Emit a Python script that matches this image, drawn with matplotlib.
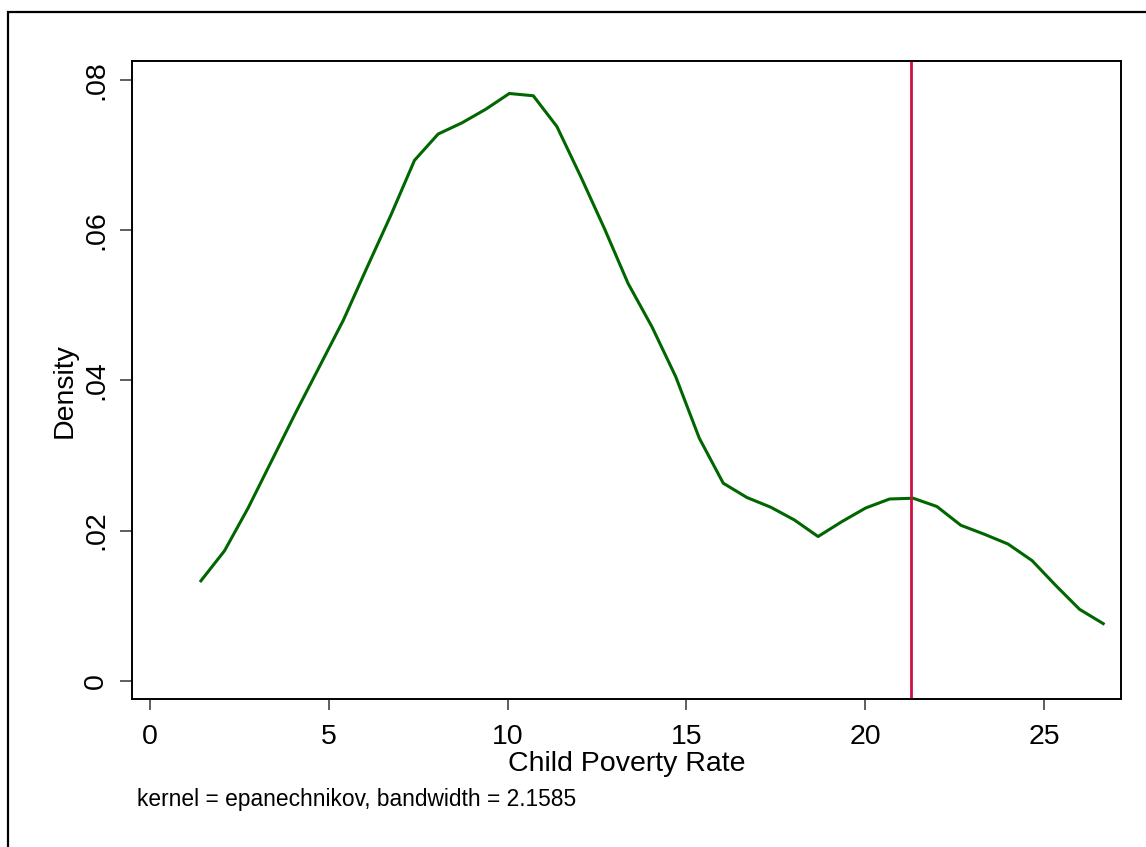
import matplotlib
matplotlib.use("Agg")
import matplotlib.pyplot as plt
from matplotlib.patches import Rectangle

plt.rcParams['font.family'] = ['Liberation Sans', 'DejaVu Sans']

# kernel density estimate
poverty = [1.43, 2.09, 2.75, 3.42, 4.08, 4.74, 5.41, 6.07, 6.74, 7.40,
           8.06, 8.73, 9.39, 10.05, 10.72, 11.38, 12.05, 12.71, 13.37, 14.04,
           14.70, 15.36, 16.03, 16.69, 17.36, 18.02, 18.68, 19.35, 20.01, 20.68,
           21.34, 22.00, 22.67, 23.33, 23.99, 24.66, 25.32, 25.99, 26.65]
density = [0.0133, 0.0173, 0.0230, 0.0294, 0.0357, 0.0418, 0.0480, 0.0550, 0.0620, 0.0693,
           0.0728, 0.0743, 0.0761, 0.0782, 0.0779, 0.0738, 0.0671, 0.0602, 0.0529, 0.0471,
           0.0405, 0.0323, 0.0263, 0.0244, 0.0231, 0.0214, 0.0192, 0.0212, 0.0230, 0.0242,
           0.0243, 0.0232, 0.0207, 0.0195, 0.0182, 0.0160, 0.0127, 0.0095, 0.0076]
marker_x = 21.28

xticks = [0, 5, 10, 15, 20, 25]
yticks = [0, 0.02, 0.04, 0.06, 0.08]
ytick_labels = ["0", ".02", ".04", ".06", ".08"]

fig = plt.figure(figsize=(11.46, 8.47), dpi=100)
ax = fig.add_axes([0.1152, 0.1747, 0.8630, 0.7533])

ax.plot(poverty, density, color="#006600", lw=2.2)
ax.axvline(marker_x, color="#cc1144", lw=2.0)

ax.set_xlim(-0.495, 27.147)
ax.set_ylim(-0.00244, 0.08253)
ax.set_xticks(xticks)
ax.set_xticklabels([str(t) for t in xticks])
ax.set_yticks(yticks)
ax.set_yticklabels(ytick_labels, rotation=90, va="center")

ax.tick_params(axis="x", length=8, width=1.1, pad=10, labelsize=20.5, color="#333333")
ax.tick_params(axis="y", length=8.5, width=1.1, pad=8, labelsize=20.5, color="#333333")
for s in ax.spines.values():
    s.set_linewidth(1.4)

ax.set_xlabel("Child Poverty Rate", fontsize=20.5, labelpad=1)
ax.set_ylabel("Density", fontsize=20.5)
ax.yaxis.set_label_coords(-0.0546, 0.484)

fig.text(137 / 1146, 1 - 806 / 847, "kernel = epanechnikov, bandwidth = 2.1585",
         fontsize=16.4, va="baseline", ha="left")

# outer frame, running off the right and bottom edges
frame = Rectangle((8 / 1146, -0.2), 1.3, 1.2 - 12 / 847, transform=fig.transFigure,
                  fill=False, lw=1.6, ec="black", clip_on=False)
fig.patches.append(frame)

fig.savefig("out.png", dpi=100)
